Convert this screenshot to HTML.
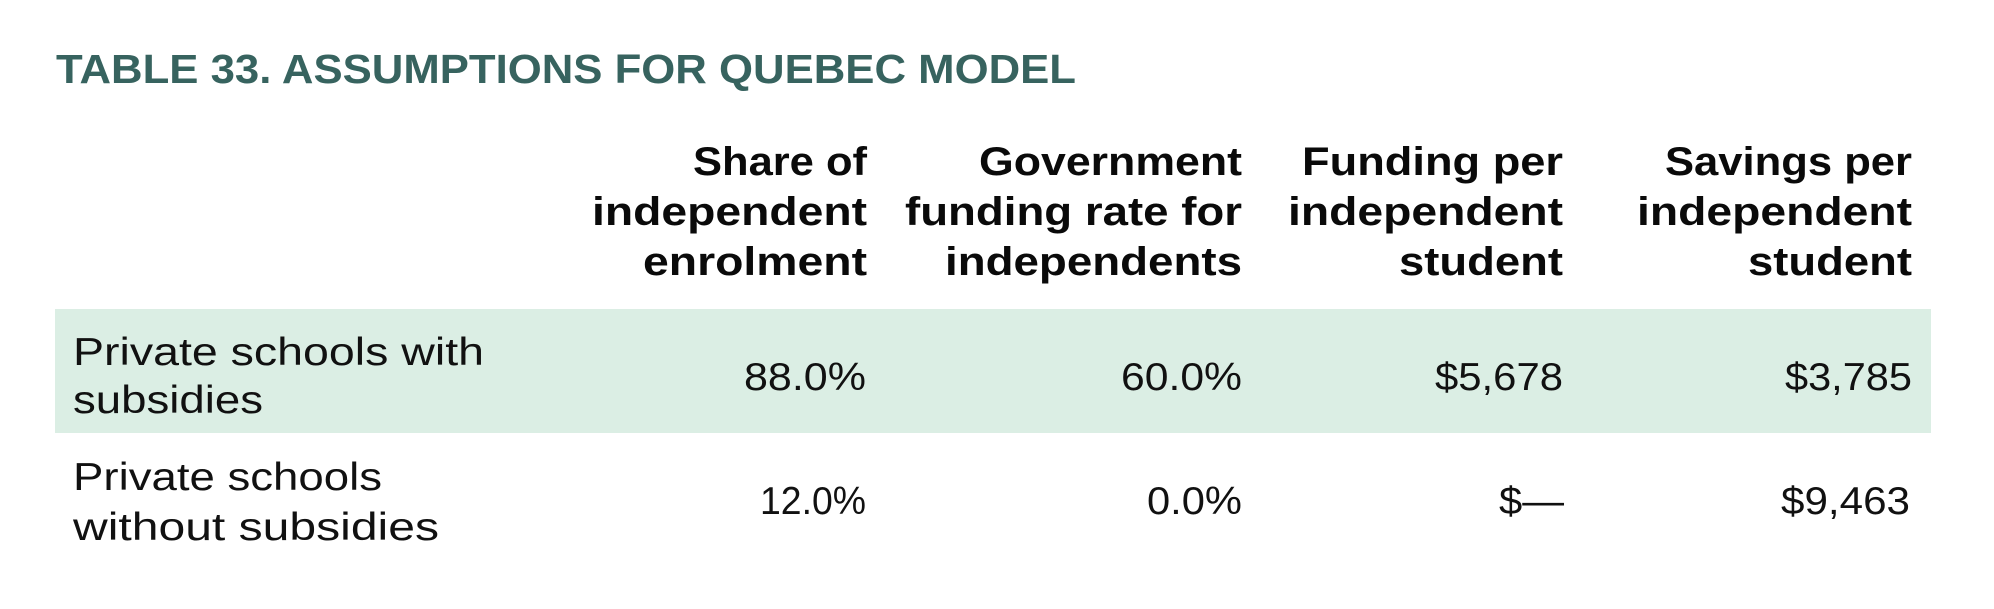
<!DOCTYPE html>
<html>
<head>
<meta charset="utf-8">
<style>
  html, body { margin:0; padding:0; background:#ffffff; }
  body { width:1994px; height:609px; overflow:hidden; }
  svg { display:block; }
  .t { font-family:"Liberation Sans", sans-serif; font-weight:bold; font-size:41px; fill:#37635f; }
  .h { font-family:"Liberation Sans", sans-serif; font-weight:bold; font-size:40px; fill:#0a0a0a; text-anchor:end; }
  .b { font-family:"Liberation Sans", sans-serif; font-weight:normal; font-size:39px; fill:#111111; }
  .n { font-family:"Liberation Sans", sans-serif; font-weight:normal; font-size:39px; fill:#111111; text-anchor:end; }
</style>
</head>
<body>
<svg width="1994" height="609" viewBox="0 0 1994 609" xmlns="http://www.w3.org/2000/svg">
  <rect x="0" y="0" width="1994" height="609" fill="#ffffff"/>

  <!-- Title -->
  <text class="t" x="56" y="83" textLength="1020" lengthAdjust="spacingAndGlyphs">TABLE 33. ASSUMPTIONS FOR QUEBEC MODEL</text>

  <!-- Header col 1 -->
  <text class="h" x="867" y="175" textLength="174" lengthAdjust="spacingAndGlyphs">Share of</text>
  <text class="h" x="867" y="225" textLength="275" lengthAdjust="spacingAndGlyphs">independent</text>
  <text class="h" x="867" y="275" textLength="224" lengthAdjust="spacingAndGlyphs">enrolment</text>

  <!-- Header col 2 -->
  <text class="h" x="1242" y="175" textLength="263" lengthAdjust="spacingAndGlyphs">Government</text>
  <text class="h" x="1242" y="225" textLength="337" lengthAdjust="spacingAndGlyphs">funding rate for</text>
  <text class="h" x="1242" y="275" textLength="297" lengthAdjust="spacingAndGlyphs">independents</text>

  <!-- Header col 3 -->
  <text class="h" x="1563" y="175" textLength="261" lengthAdjust="spacingAndGlyphs">Funding per</text>
  <text class="h" x="1563" y="225" textLength="275" lengthAdjust="spacingAndGlyphs">independent</text>
  <text class="h" x="1563" y="275" textLength="164" lengthAdjust="spacingAndGlyphs">student</text>

  <!-- Header col 4 -->
  <text class="h" x="1912" y="175" textLength="247" lengthAdjust="spacingAndGlyphs">Savings per</text>
  <text class="h" x="1912" y="225" textLength="275" lengthAdjust="spacingAndGlyphs">independent</text>
  <text class="h" x="1912" y="275" textLength="164" lengthAdjust="spacingAndGlyphs">student</text>

  <!-- Row 1 band -->
  <rect x="55" y="309" width="1876" height="124" fill="#dbeee4"/>

  <!-- Row 1 -->
  <text class="b" x="73" y="365" textLength="411" lengthAdjust="spacingAndGlyphs">Private schools with</text>
  <text class="b" x="73" y="413" textLength="190" lengthAdjust="spacingAndGlyphs">subsidies</text>
  <text class="n" x="866" y="390" textLength="122" lengthAdjust="spacingAndGlyphs">88.0%</text>
  <text class="n" x="1242" y="390" textLength="121" lengthAdjust="spacingAndGlyphs">60.0%</text>
  <text class="n" x="1563" y="390" textLength="128" lengthAdjust="spacingAndGlyphs">$5,678</text>
  <text class="n" x="1912" y="390" textLength="127" lengthAdjust="spacingAndGlyphs">$3,785</text>

  <!-- Row 2 -->
  <text class="b" x="73" y="490" textLength="309" lengthAdjust="spacingAndGlyphs">Private schools</text>
  <text class="b" x="73" y="540" textLength="366" lengthAdjust="spacingAndGlyphs">without subsidies</text>
  <text class="n" x="866" y="514" textLength="106" lengthAdjust="spacingAndGlyphs">12.0%</text>
  <text class="n" x="1242" y="514" textLength="95" lengthAdjust="spacingAndGlyphs">0.0%</text>
  <text class="n" x="1564" y="514" textLength="65" lengthAdjust="spacingAndGlyphs">$—</text>
  <text class="n" x="1910" y="514" textLength="129" lengthAdjust="spacingAndGlyphs">$9,463</text>
</svg>
</body>
</html>
